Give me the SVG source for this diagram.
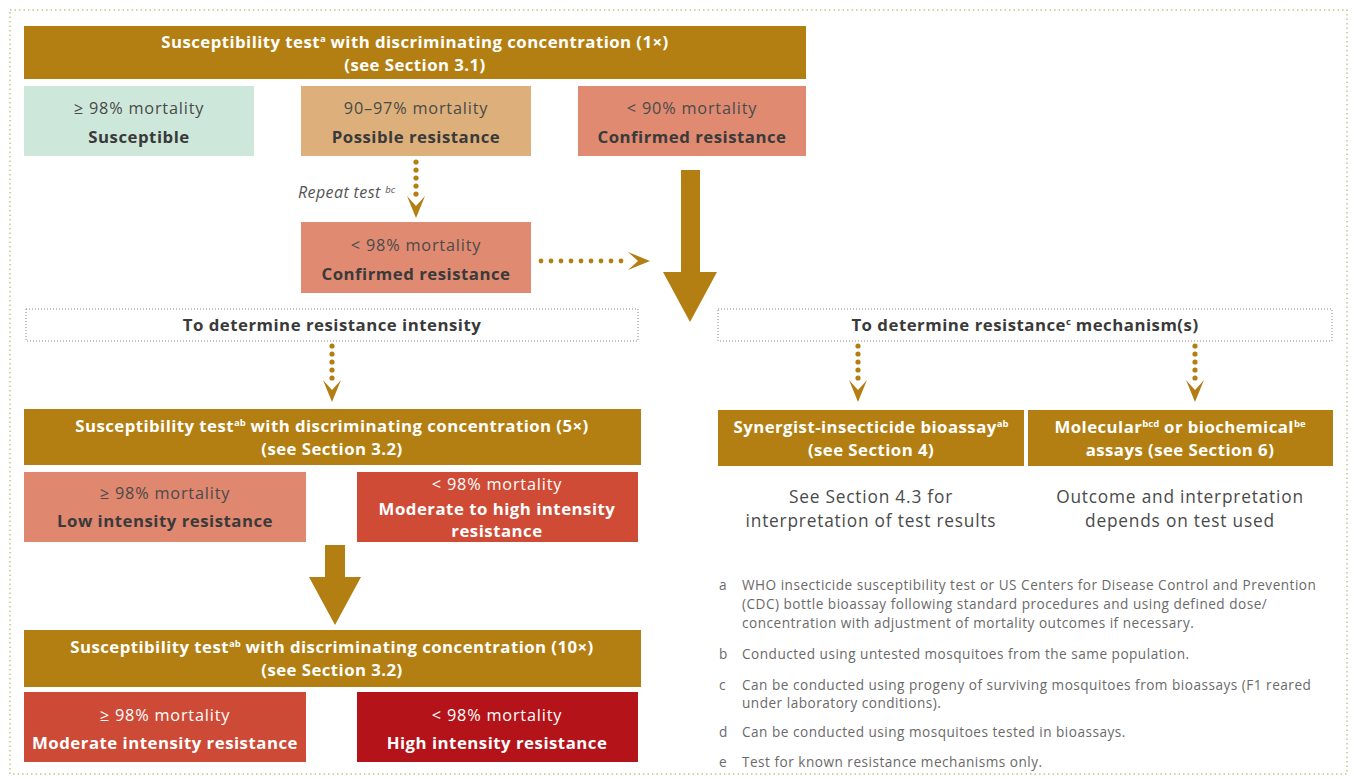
<svg xmlns="http://www.w3.org/2000/svg" width="1354" height="779" viewBox="0 0 1354 779">
  <style>
    text { font-family: "Open Sans", "Liberation Sans", sans-serif; }
    .hdr { fill: #b37f12; }
    .ht { fill: #ffffff; font-weight: 700; font-size: 16.8px; letter-spacing: 0.45px; text-anchor: middle; }
    .sup { font-size: 9.5px; letter-spacing: 0; }
    .lt { fill: #4a4a4a; font-size: 16.3px; letter-spacing: 0.8px; text-anchor: middle; }
    .bt { fill: #3a3a3a; font-weight: 700; font-size: 16.8px; letter-spacing: 0.5px; text-anchor: middle; }
    .wl { fill: #ffffff; font-size: 16.3px; letter-spacing: 0.8px; text-anchor: middle; }
    .wb { fill: #ffffff; font-weight: 700; font-size: 16.8px; letter-spacing: 0.5px; text-anchor: middle; }
    .out { fill: #4a4a4a; font-size: 17.3px; letter-spacing: 0.8px; text-anchor: middle; }
    .dotbox { fill: #ffffff; stroke: #8a8a8a; stroke-width: 1; stroke-dasharray: 1 2; }
    .note { fill: #6a6a6a; font-size: 13.6px; letter-spacing: 0.5px; }
    .dot { fill: #b37f12; }
    .arrow { fill: #b37f12; }
  </style>
  <defs>
    <!-- chevron head used by the dotted connectors, pointing down, tip at 0,0 -->
    <path id="headDown" d="M-9,-22 L0,-12 L9,-22 L0,0 Z"/>
  </defs>

  <rect width="1354" height="779" fill="#ffffff"/>
  <!-- outer dotted frame -->
  <rect x="10" y="10" width="1337" height="764" fill="none" stroke="#c8c48a" stroke-width="1.5" stroke-dasharray="1.5 3"/>

  <!-- top level test -->
  <g id="test1x">
    <rect class="hdr" x="24" y="26" width="782" height="53"/>
    <text class="ht" x="415" y="48">Susceptibility test<tspan class="sup" dy="-6">a</tspan><tspan dy="6"> with discriminating concentration (1×)</tspan></text>
    <text class="ht" x="415" y="71">(see Section 3.1)</text>
  </g>

  <g id="susceptible">
    <rect x="24" y="86" width="230" height="70" fill="#cde7da"/>
    <text class="lt" x="139" y="114">≥ 98% mortality</text>
    <text class="bt" x="139" y="143">Susceptible</text>
  </g>

  <g id="possible">
    <rect x="301" y="86" width="230" height="70" fill="#ddb07b"/>
    <text class="lt" x="416" y="114">90–97% mortality</text>
    <text class="bt" x="416" y="143">Possible resistance</text>
  </g>

  <g id="confirmed90">
    <rect x="578" y="86" width="228" height="70" fill="#e08a72"/>
    <text class="lt" x="692" y="114">&lt; 90% mortality</text>
    <text class="bt" x="692" y="143">Confirmed resistance</text>
  </g>

  <g id="confirmed98">
    <rect x="301" y="222" width="230" height="71" fill="#e08a72"/>
    <text class="lt" x="416" y="251">&lt; 98% mortality</text>
    <text class="bt" x="416" y="280">Confirmed resistance</text>
  </g>

  <g id="repeatLabel">
    <text x="395" y="198" fill="#555555" font-size="16" font-style="italic" letter-spacing="0.4" text-anchor="end">Repeat test <tspan class="sup" dy="-5">bc</tspan></text>
  </g>

  <g id="intensityBranch">
    <rect class="dotbox" x="26" y="309" width="612" height="32"/>
    <text class="bt" x="332" y="331" font-size="16">To determine resistance intensity</text>
  </g>

  <g id="mechanismBranch">
    <rect class="dotbox" x="718" y="309" width="614" height="32"/>
    <text class="bt" x="1025" y="331" font-size="16">To determine resistance<tspan class="sup" dy="-6">c</tspan><tspan dy="6"> mechanism(s)</tspan></text>
  </g>

  <g id="test5x">
    <rect class="hdr" x="24" y="409" width="617" height="56"/>
    <text class="ht" x="332" y="432">Susceptibility test<tspan class="sup" dy="-6">ab</tspan><tspan dy="6"> with discriminating concentration (5×)</tspan></text>
    <text class="ht" x="332" y="455">(see Section 3.2)</text>
  </g>

  <g id="lowIntensity">
    <rect x="24" y="472" width="282" height="70" fill="#df876f"/>
    <text class="lt" x="165" y="499">≥ 98% mortality</text>
    <text class="bt" x="165" y="527">Low intensity resistance</text>
  </g>

  <g id="modHighIntensity">
    <rect x="357" y="472" width="281" height="70" fill="#cf4b36"/>
    <text class="wl" x="497" y="490">&lt; 98% mortality</text>
    <text class="wb" x="497" y="515">Moderate to high intensity</text>
    <text class="wb" x="497" y="537">resistance</text>
  </g>

  <g id="test10x">
    <rect class="hdr" x="24" y="630" width="617" height="57"/>
    <text class="ht" x="332" y="653">Susceptibility test<tspan class="sup" dy="-6">ab</tspan><tspan dy="6"> with discriminating concentration (10×)</tspan></text>
    <text class="ht" x="332" y="676">(see Section 3.2)</text>
  </g>

  <g id="moderateIntensity">
    <rect x="24" y="692" width="282" height="70" fill="#cd4a37"/>
    <text class="wl" x="165" y="721">≥ 98% mortality</text>
    <text class="wb" x="165" y="749">Moderate intensity resistance</text>
  </g>

  <g id="highIntensity">
    <rect x="357" y="692" width="281" height="70" fill="#b41319"/>
    <text class="wl" x="497" y="721">&lt; 98% mortality</text>
    <text class="wb" x="497" y="749">High  intensity resistance</text>
  </g>

  <g id="synergist">
    <rect class="hdr" x="718" y="410" width="306" height="56"/>
    <text class="ht" x="871" y="433">Synergist-insecticide bioassay<tspan class="sup" dy="-6">ab</tspan></text>
    <text class="ht" x="871" y="456">(see Section 4)</text>
    <text class="out" x="871" y="503">See Section 4.3 for</text>
    <text class="out" x="871" y="527">interpretation of test results</text>
  </g>

  <g id="molecular">
    <rect class="hdr" x="1028" y="410" width="305" height="56"/>
    <text class="ht" x="1180" y="433">Molecular<tspan class="sup" dy="-6">bcd</tspan><tspan dy="6"> or biochemical</tspan><tspan class="sup" dy="-6">be</tspan></text>
    <text class="ht" x="1180" y="456">assays (see Section 6)</text>
    <text class="out" x="1180" y="503">Outcome and interpretation</text>
    <text class="out" x="1180" y="527">depends on test used</text>
  </g>

  <g id="footnotes">
    <text class="note" x="719" y="590">a</text>
    <text class="note" x="742" y="590">WHO insecticide susceptibility test or US Centers for Disease Control and Prevention</text>
    <text class="note" x="742" y="609">(CDC) bottle bioassay following standard procedures and using defined dose/</text>
    <text class="note" x="742" y="628">concentration with adjustment of mortality outcomes if necessary.</text>
    <text class="note" x="719" y="659">b</text>
    <text class="note" x="742" y="659">Conducted using untested mosquitoes from the same population.</text>
    <text class="note" x="719" y="690">c</text>
    <text class="note" x="742" y="690">Can be conducted using progeny of surviving mosquitoes from bioassays (F1 reared</text>
    <text class="note" x="742" y="708">under laboratory conditions).</text>
    <text class="note" x="719" y="737">d</text>
    <text class="note" x="742" y="737">Can be conducted using mosquitoes tested in bioassays.</text>
    <text class="note" x="719" y="767">e</text>
    <text class="note" x="742" y="767">Test for known resistance mechanisms only.</text>
  </g>

  <g id="connectors">
    <!-- possible resistance -> repeat test result (dotted) -->
    <g class="dot">
      <circle cx="416" cy="162" r="2.6"/>
      <circle cx="416" cy="170" r="2.6"/>
      <circle cx="416" cy="178" r="2.6"/>
      <circle cx="416" cy="186" r="2.6"/>
      <circle cx="416" cy="194" r="2.6"/>
    </g>
    <use href="#headDown" class="arrow" transform="translate(416,218)"/>

    <!-- confirmed (<98%) -> mechanism branch (dotted, horizontal) -->
    <g class="dot">
      <circle cx="541" cy="261" r="2.4"/>
      <circle cx="551" cy="261" r="2.4"/>
      <circle cx="561" cy="261" r="2.4"/>
      <circle cx="571" cy="261" r="2.4"/>
      <circle cx="581" cy="261" r="2.4"/>
      <circle cx="591" cy="261" r="2.4"/>
      <circle cx="601" cy="261" r="2.4"/>
      <circle cx="611" cy="261" r="2.4"/>
      <circle cx="621" cy="261" r="2.4"/>
    </g>
    <use href="#headDown" class="arrow" transform="translate(650,261) rotate(-90)"/>

    <!-- confirmed (<90%) -> both branches (solid) -->
    <path class="arrow" d="M681,170 H700 V272 L717,272 L690,322 L663,272 L681,272 Z"/>

    <!-- intensity branch -> 5x test -->
    <g class="dot">
      <circle cx="332" cy="346" r="2.6"/>
      <circle cx="332" cy="354" r="2.6"/>
      <circle cx="332" cy="362" r="2.6"/>
      <circle cx="332" cy="370" r="2.6"/>
      <circle cx="332" cy="378" r="2.6"/>
    </g>
    <use href="#headDown" class="arrow" transform="translate(332,402)"/>

    <!-- mechanism branch -> synergist / molecular -->
    <g class="dot">
      <circle cx="858" cy="346" r="2.6"/>
      <circle cx="858" cy="354" r="2.6"/>
      <circle cx="858" cy="362" r="2.6"/>
      <circle cx="858" cy="370" r="2.6"/>
      <circle cx="858" cy="378" r="2.6"/>
      <circle cx="1195" cy="346" r="2.6"/>
      <circle cx="1195" cy="354" r="2.6"/>
      <circle cx="1195" cy="362" r="2.6"/>
      <circle cx="1195" cy="370" r="2.6"/>
      <circle cx="1195" cy="378" r="2.6"/>
    </g>
    <use href="#headDown" class="arrow" transform="translate(858,402)"/>
    <use href="#headDown" class="arrow" transform="translate(1195,402)"/>

    <!-- low intensity -> 10x test (solid) -->
    <path class="arrow" d="M325,545 H345 V577 L361,577 L335,625 L309,577 L325,577 Z"/>
  </g>
</svg>
